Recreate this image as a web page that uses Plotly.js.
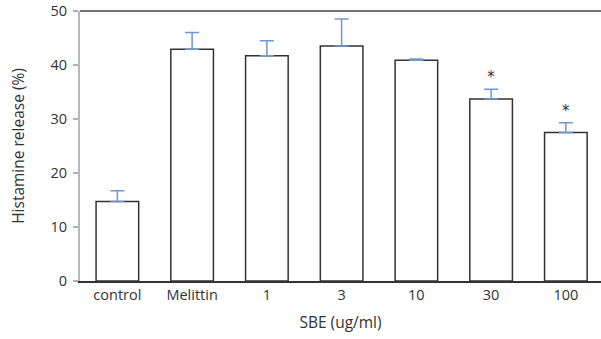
<!DOCTYPE html>
<html>
<head>
<meta charset="utf-8">
<script src="https://cdn.plot.ly/plotly-3.0.1.min.js"></script>
<style>html,body{margin:0;padding:0;background:#fff}#chart{width:601px;height:339px}</style>
</head>
<body>
<div id="chart"></div>
<script>
const categories = ['control', 'Melittin', '1', '3', '10', '30', '100'];
const releaseValues = [14.7, 42.9, 41.7, 43.5, 40.9, 33.7, 27.5];
const errorValues = [2.0, 3.1, 2.8, 5.0, 0.2, 1.8, 1.8];
const significant = [false, false, false, false, false, true, true];
const yTicks = [0, 10, 20, 30, 40, 50];

const font = '"Open Sans", "Noto Sans", sans-serif';

const barTrace = {
  type: 'bar',
  x: categories,
  y: releaseValues,
  width: 0.57,
  marker: {color: '#ffffff', line: {color: '#333333', width: 1.5}},
  error_y: {type: 'data', array: errorValues, arrayminus: errorValues.map(() => 0), symmetric: false,
            color: '#6f98cc', thickness: 1.5, width: 7},
  hoverinfo: 'none'
};

const sigX = categories.filter((c, i) => significant[i]);
const sigY = releaseValues.map((v, i) => v + errorValues[i]).filter((v, i) => significant[i]);

const starTrace = {
  type: 'scatter',
  mode: 'text',
  x: sigX,
  y: sigY.map(v => v + 2.0),
  text: sigX.map(() => '*'),
  textposition: 'middle center',
  textfont: {family: 'DejaVu Sans, sans-serif', size: 15, color: '#333'},
  hoverinfo: 'none',
  cliponaxis: false
};

const layout = {
  width: 601, height: 339,
  margin: {l: 80, r: 0, t: 11, b: 58},
  paper_bgcolor: '#fff', plot_bgcolor: '#fff',
  showlegend: false,
  font: {family: font, size: 14, color: '#333'},
  xaxis: {
    type: 'category', range: [-0.5, 6.47],
    showline: true, linecolor: '#333', linewidth: 1.5,
    ticks: '', showgrid: false, zeroline: false,
    tickfont: {family: font, size: 14.5, color: '#333'},
    title: {text: 'SBE (ug/ml)', font: {family: font, size: 15.5, color: '#333'}, standoff: 14}
  },
  yaxis: {
    range: [0, 50], tickvals: yTicks, ticktext: yTicks.map(String),
    showline: true, linecolor: '#b8b8b8', linewidth: 2,
    ticks: 'outside', ticklen: 5, tickcolor: '#b0b0b0', tickwidth: 1.5,
    ticklabelstandoff: 3,
    showgrid: false, zeroline: false,
    tickfont: {family: font, size: 14.5, color: '#333'},
    title: {text: 'Histamine release (%)', font: {family: font, size: 15.5, color: '#333'}, standoff: 22}
  },
  shapes: [{type: 'line', xref: 'paper', yref: 'paper', x0: 0, x1: 1, y0: 1, y1: 1,
            line: {color: '#444', width: 1.5}}]
};

Plotly.newPlot('chart', [barTrace, starTrace], layout, {displayModeBar: false, staticPlot: true});
</script>
</body>
</html>
